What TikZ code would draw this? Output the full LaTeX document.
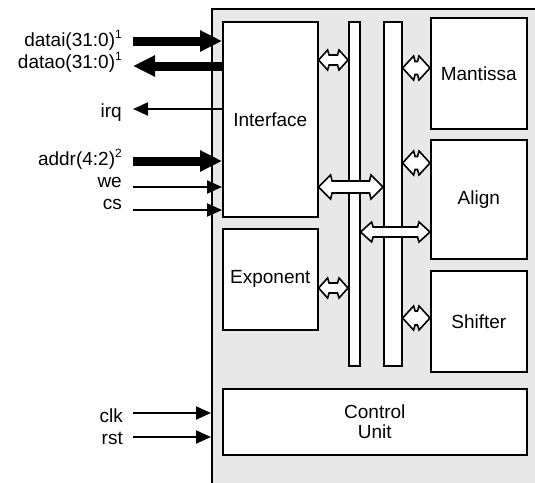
\documentclass[tikz,border=0pt]{standalone}
\usepackage{fontspec}
\setmainfont{Liberation Sans}
\usetikzlibrary{arrows.meta,calc}
\definecolor{chipgray}{HTML}{E8E8E8}
\newcommand\dbl[5]{\path[hollow] let \p1=#1, \p2=#2 in
 (\x1,\y1) -- (\x1+#5,\y1+#3) -- (\x1+#5+1.5pt,\y1+#4) -- (\x2-#5-1.5pt,\y1+#4) -- (\x2-#5,\y1+#3) -- (\x2,\y1)
 -- (\x2-#5,\y1-#3) -- (\x2-#5-1.5pt,\y1-#4) -- (\x1+#5+1.5pt,\y1-#4) -- (\x1+#5,\y1-#3) -- cycle;}
\newcommand\supnum[1]{\raisebox{8pt}{\fontsize{12}{12}\selectfont #1}}
\begin{document}
\begin{tikzpicture}[x=1pt,y=-1pt,
  font=\fontsize{19}{20}\selectfont,
  blk/.style={draw, line width=1.6pt, fill=white, anchor=north west, inner sep=0pt, align=center},
  hollow/.style={draw, line width=1.6pt, fill=white, line join=miter},
  thickarrow/.style={line width=9pt, -{Triangle[length=22pt,width=20pt]}},
  thinarrow/.style={line width=2pt, -{Triangle[length=15pt,width=13pt]}},
  lbl/.style={anchor=base east, inner sep=0pt}]
\useasboundingbox (0,0) rectangle (535,482);
\clip (0,0) rectangle (535,482);
\node[draw, line width=1.6pt, fill=chipgray, minimum width=340pt, minimum height=490pt, anchor=north west, inner sep=0pt] (chip) at (211,8) {};
% blocks
\node[blk, minimum width=95pt, minimum height=195pt] (iface) at (222,21) {Interface};
\node[blk, minimum width=95pt, minimum height=101pt] (expo) at (222,228) {Exponent};
\node[blk, minimum width=11pt, minimum height=344pt] (bus1) at (348,21) {};
\node[blk, minimum width=18pt, minimum height=344pt] (bus2) at (383,21) {};
\node[blk, minimum width=96pt, minimum height=111pt] (mant) at (430,17) {Mantissa};
\node[blk, minimum width=96pt, minimum height=119pt] (align) at (430,139) {Align};
\node[blk, minimum width=96pt, minimum height=101pt] (shift) at (430,270) {Shifter};
\node[blk, minimum width=304pt, minimum height=66pt] (ctrl) at (222,388) {Control\\Unit};
% internal bus arrows
\dbl{(iface.east |- 0,60)}{(bus1.west |- 0,60)}{10pt}{5pt}{9pt}
\dbl{(iface.east |- 0,187)}{(bus2.west |- 0,187)}{12pt}{6pt}{12pt}
\dbl{(expo.east |- 0,288)}{(bus1.west |- 0,288)}{10pt}{5pt}{9pt}
\dbl{(bus2.east |- 0,68)}{(mant.west |- 0,68)}{12pt}{6.5pt}{11pt}
\dbl{(bus2.east |- 0,163)}{(align.west |- 0,163)}{12pt}{6.5pt}{11pt}
\dbl{(bus1.east |- 0,232)}{(align.west |- 0,232)}{10pt}{5pt}{11pt}
\dbl{(bus2.east |- 0,318)}{(shift.west |- 0,318)}{12pt}{7pt}{11pt}
% signal ends
\coordinate (cdi) at (133,41);
\coordinate (cdo) at (133,66);
\coordinate (cirq) at (133,109);
\coordinate (cad) at (133,161);
\coordinate (cwe) at (133,187);
\coordinate (ccs) at (133,210);
\coordinate (cclk) at (133,413);
\coordinate (crst) at (133,437);
% labels
\node[lbl] (ldi) at (122,46) {datai(31:0)\supnum{1}};
\node[lbl] (ldo) at (122,68) {datao(31:0)\supnum{1}};
\node[lbl] (lirq) at (122,117) {irq};
\node[lbl] (lad) at (122,165) {addr(4:2)\supnum{2}};
\node[lbl] (lwe) at (122,187) {we};
\node[lbl] (lcs) at (122,209) {cs};
\node[lbl] (lclk) at (123,422) {clk};
\node[lbl] (lrst) at (123,444) {rst};
% signal arrows
\draw[thickarrow] (cdi) -- (iface.west |- cdi);
\draw[thickarrow] (iface.west |- cdo) -- (cdo);
\draw[thinarrow] (iface.west |- cirq) -- (cirq);
\draw[thickarrow] (cad) -- (iface.west |- cad);
\draw[thinarrow] (cwe) -- (iface.west |- cwe);
\draw[thinarrow] (ccs) -- (iface.west |- ccs);
\draw[thinarrow] (cclk) -- (chip.west |- cclk);
\draw[thinarrow] (crst) -- (chip.west |- crst);
\end{tikzpicture}
\end{document}
